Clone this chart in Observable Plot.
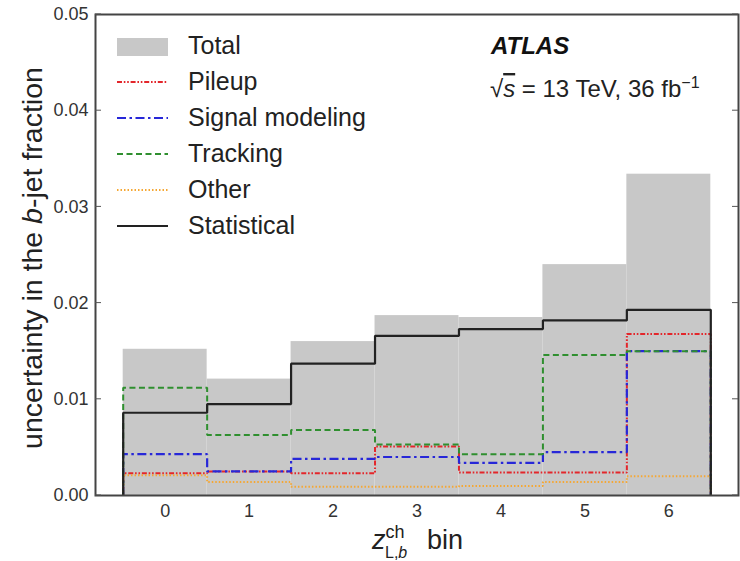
<!DOCTYPE html>
<html>
<head>
<meta charset="utf-8">
<script src="https://cdn.jsdelivr.net/npm/d3@7"></script>
<script src="https://cdn.jsdelivr.net/npm/@observablehq/plot@0.6"></script>
<style>
  body { margin: 0; background: #fff; }
  #chart svg { font-family: "Liberation Sans", Arial, Helvetica, sans-serif; }
</style>
</head>
<body>
<div id="chart"></div>
<script>
// z_L,b^ch bins and the uncertainty components of the b-jet fraction
const bins = [0, 1, 2, 3, 4, 5, 6];
const total          = [0.0152, 0.0121, 0.0160, 0.0187, 0.0185, 0.0240, 0.0334];
const statistical    = [0.0086, 0.0095, 0.0137, 0.0166, 0.0173, 0.0182, 0.0193];
const tracking       = [0.0112, 0.0063, 0.0068, 0.0053, 0.0043, 0.0146, 0.0150];
const signalModeling = [0.0043, 0.0025, 0.0038, 0.0040, 0.0034, 0.0045, 0.0150];
const pileup         = [0.0023, 0.0025, 0.0023, 0.0051, 0.0024, 0.0024, 0.0168];
const other          = [0.0021, 0.0014, 0.0009, 0.0009, 0.0010, 0.0014, 0.0020];
const yTicks = [0, 0.01, 0.02, 0.03, 0.04, 0.05];

const series = [
  {name: "Pileup",          values: pileup,         color: "#e3262b", dash: "5,1.8,1.6,1.8,1.6,1.8", width: 2},
  {name: "Signal modeling", values: signalModeling, color: "#2727d8", dash: "9,3.5,2.5,3.5",         width: 2.2},
  {name: "Tracking",        values: tracking,       color: "#2f8f2f", dash: "6,3.5",                 width: 2},
  {name: "Other",           values: other,          color: "#f5a733", dash: "1.5,2",                 width: 2},
  {name: "Statistical",     values: statistical,    color: "#222222", dash: null,                    width: 2.2}
];

// closed step outline of a histogram: rises from 0 at the first edge, drops to 0 at the last edge
function stepPoints(values) {
  const n = bins.length;
  const pts = [{x: bins[0] - 0.5, y: 0}];
  values.forEach((v, i) => pts.push({x: bins[i] - 0.5, y: v}));
  pts.push({x: bins[n - 1] + 0.5, y: values[n - 1]});
  pts.push({x: bins[n - 1] + 0.5, y: 0});
  return pts;
}

const totalRows = bins.map((b, i) => ({bin: b, value: total[i]}));

const plot = Plot.plot({
  width: 740,
  height: 561,
  marginLeft: 95,
  marginRight: 2,
  marginTop: 14,
  marginBottom: 66,
  style: {fontFamily: "'Liberation Sans', Arial, Helvetica, sans-serif", background: "#fff", overflow: "visible"},
  x: {domain: [-0.83, 6.83]},
  y: {domain: [0, 0.05]},
  marks: [
    Plot.rectY(totalRows, {x1: d => d.bin - 0.5, x2: d => d.bin + 0.5, y1: 0, y2: "value", fill: "#c8c8c8"}),
    ...series.map(s => Plot.line(stepPoints(s.values), {
      x: "x", y: "y", curve: "step-after",
      stroke: s.color, strokeWidth: s.width,
      strokeDasharray: s.dash, strokeLinejoin: "miter", strokeLinecap: "butt"
    })),
    Plot.axisY(yTicks, {tickSize: 0, tickPadding: 7, tickFormat: d3.format(".2f"), fontSize: 18, fill: "#333", label: null}),
    Plot.axisX(bins, {tickSize: 0, tickPadding: 9, tickFormat: d3.format("d"), fontSize: 18, fill: "#333", label: null}),
    Plot.frame({stroke: "#444", strokeWidth: 2})
  ]
});

document.getElementById("chart").appendChild(plot);

const svg = d3.select(plot);
const ys = plot.scale("y");
const left = 95, right = 738;

// inward tick marks on both vertical sides
const tickG = svg.append("g").attr("stroke", "#555").attr("stroke-width", 1);
yTicks.forEach(t => {
  const y = ys.apply(t);
  tickG.append("line").attr("x1", left).attr("x2", left + 6).attr("y1", y).attr("y2", y);
  tickG.append("line").attr("x1", right - 6).attr("x2", right).attr("y1", y).attr("y2", y);
});

// legend
const legend = svg.append("g").attr("font-size", 25).attr("fill", "#222").attr("text-anchor", "start");
const rowY = [45, 81, 117, 153, 189, 225];
legend.append("rect").attr("x", 117).attr("y", 38).attr("width", 51).attr("height", 18).attr("fill", "#c8c8c8");
legend.append("text").attr("x", 188).attr("y", rowY[0]).attr("dy", "0.36em").text("Total");
series.forEach((s, i) => {
  const y = rowY[i + 1] + 1;
  legend.append("line").attr("x1", 117).attr("x2", 168).attr("y1", y).attr("y2", y)
    .attr("stroke", s.color).attr("stroke-width", s.width)
    .attr("stroke-dasharray", s.dash);
  legend.append("text").attr("x", 188).attr("y", rowY[i + 1]).attr("dy", "0.36em").text(s.name);
});

// experiment label
svg.append("text").attr("x", 491).attr("y", 54).attr("font-size", 24).attr("text-anchor", "start")
  .attr("font-weight", "bold").attr("font-style", "italic").attr("fill", "#111").text("ATLAS");
const energy = svg.append("text").attr("x", 490).attr("y", 97).attr("font-size", 24)
  .attr("fill", "#222").attr("text-anchor", "start");
energy.append("tspan").text("√");
energy.append("tspan").attr("font-style", "italic").attr("text-decoration", "overline").text("s");
energy.append("tspan").text(" = 13 TeV, 36 fb");
energy.append("tspan").attr("dy", -9).attr("font-size", 16).text("−1");

// y-axis title
const yTitle = svg.append("text")
  .attr("transform", "translate(42,258) rotate(-90)")
  .attr("text-anchor", "middle").attr("font-size", 28.5).attr("fill", "#222");
yTitle.append("tspan").text("uncertainty in the ");
yTitle.append("tspan").attr("font-style", "italic").text("b");
yTitle.append("tspan").text("-jet fraction");

// x-axis title
const xTitle = svg.append("text").attr("x", 372).attr("y", 549).attr("font-size", 27)
  .attr("fill", "#222").attr("text-anchor", "start");
xTitle.append("tspan").attr("font-style", "italic").text("z");
xTitle.append("tspan").attr("dy", -11).attr("font-size", 18).text("ch");
xTitle.append("tspan").attr("x", 385).attr("dy", 20).attr("font-size", 16).text("L,");
xTitle.append("tspan").attr("font-size", 16).attr("font-style", "italic").text("b");
xTitle.append("tspan").attr("x", 427).attr("dy", -9).text("bin");
</script>
</body>
</html>
